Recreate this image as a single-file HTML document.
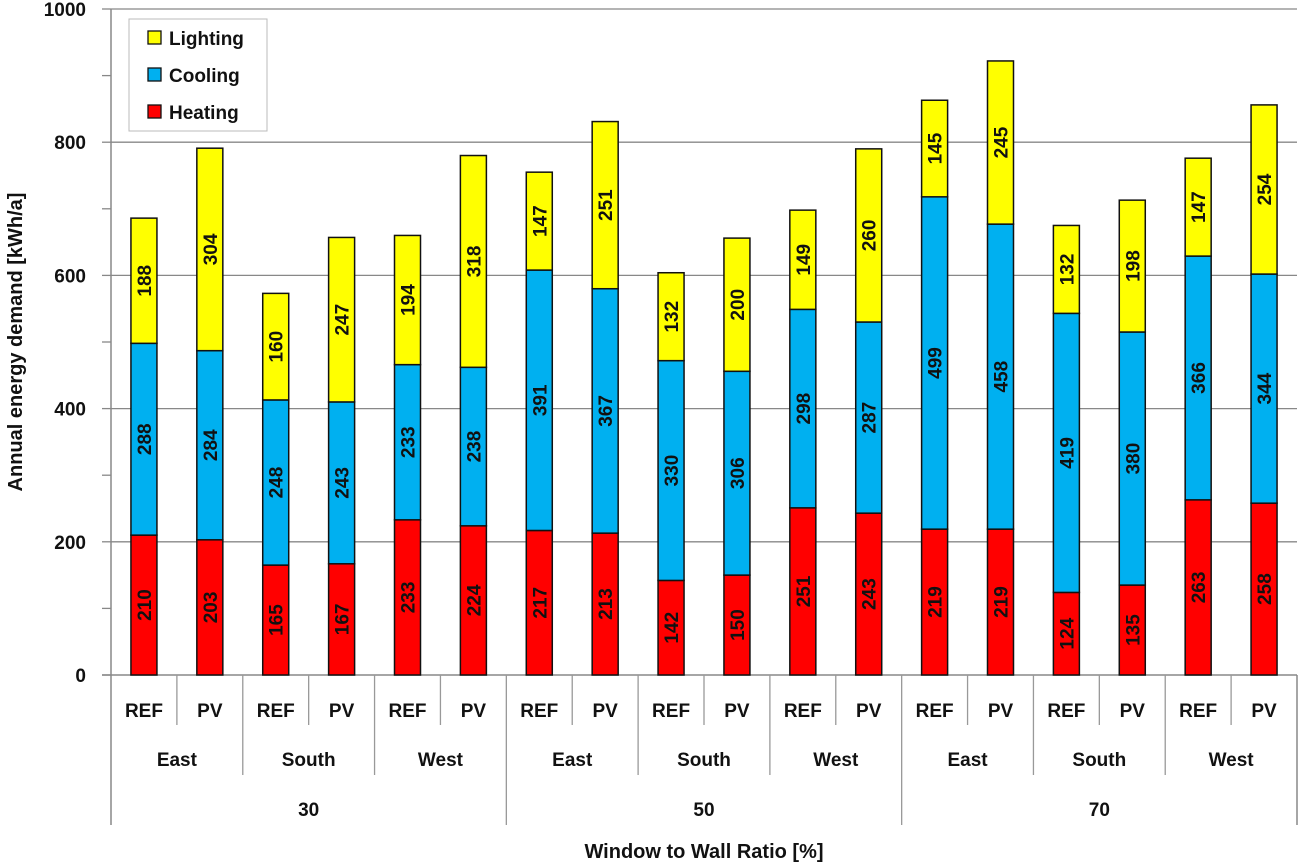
<!DOCTYPE html>
<html><head><meta charset="utf-8"><style>
html,body{margin:0;padding:0;background:#fff;}
svg{display:block;font-family:"Liberation Sans",sans-serif;}
</style></head><body>
<svg id="chart" width="1299" height="864"></svg>
<script>
const wwr = ["30","50","70"];
const orientations = ["East","South","West"];
const variants = ["REF","PV"];
const heating = [210,203,165,167,233,224,217,213,142,150,251,243,219,219,124,135,263,258];
const cooling = [288,284,248,243,233,238,391,367,330,306,298,287,499,458,419,380,366,344];
const lighting = [188,304,160,247,194,318,147,251,132,200,149,260,145,245,132,198,147,254];
const yTicks = [0,200,400,600,800,1000];

const NS="http://www.w3.org/2000/svg";
const svg=document.getElementById('chart');
const X0=111,X1=1297,Y0=675,Y1=9,YMAX=1000;
const n=heating.length, slot=(X1-X0)/n, bw=26;
const y=v=>Y0-(v/YMAX)*(Y0-Y1);
const xc=i=>X0+slot*(i+0.5);
function mk(tag,attrs,parent){const e=document.createElementNS(NS,tag);for(const k in attrs)e.setAttribute(k,attrs[k]);(parent||svg).appendChild(e);return e;}

// gridlines & ticks
for(let v=0;v<=YMAX;v+=100){
  const t=mk('line',{x1:X0-9,x2:X0,y1:y(v),y2:y(v),stroke:'#888','stroke-width':1.3});
  
  
}
yTicks.forEach(v=>{
  if(v>0){const g=mk('line',{x1:X0,x2:X1,y1:y(v),y2:y(v),stroke:'#888','stroke-width':1.3});
  
  }
  const t=mk('text',{x:86,y:y(v)+7,'text-anchor':'end','font-size':19,'font-weight':'bold',fill:'#111'});
  t.textContent=v;
  
  
});
// axis lines
mk('line',{x1:X0,x2:X0,y1:Y1,y2:825,stroke:'#888','stroke-width':1.5});
mk('line',{x1:X1,x2:X1,y1:Y0,y2:825,stroke:'#888','stroke-width':1.5});
mk('line',{x1:X0-9,x2:X1,y1:Y0,y2:Y0,stroke:'#888','stroke-width':1.5});

// bars
const series=[[heating,'#ff0000','heating'],[cooling,'#00b0f0','cooling'],[lighting,'#ffff00','lighting']];
for(let i=0;i<n;i++){
  let base=0;
  series.forEach(([arr,col,nm])=>{
    const v=arr[i];
    const r=mk('rect',{x:xc(i)-bw/2,y:y(base+v),width:bw,height:y(base)-y(base+v),fill:col,stroke:'#111','stroke-width':1.5});
    
    
    const cy=(y(base)+y(base+v))/2;
    const t=mk('text',{x:xc(i)+7,y:cy,'text-anchor':'middle','font-size':19,'font-weight':'bold',fill:'#111',transform:`rotate(-90 ${xc(i)+7} ${cy})`});
    t.textContent=v;
    
    
    base+=v;
  });
}

// category axis
for(let i=0;i<n;i++){
  const t=mk('text',{x:xc(i),y:717,'text-anchor':'middle','font-size':19,'font-weight':'bold',fill:'#111'});
  t.textContent=variants[i%2];
  
  
  if(i>0){const bottom=i%6===0?825:(i%2===0?775:725);
    mk('line',{x1:X0+slot*i,x2:X0+slot*i,y1:Y0,y2:bottom,stroke:'#999','stroke-width':1.3});}
}
for(let g=0;g<9;g++){
  const t=mk('text',{x:X0+slot*(2*g+1),y:766,'text-anchor':'middle','font-size':19,'font-weight':'bold',fill:'#111'});
  t.textContent=orientations[g%3];
  
  
}
wwr.forEach((w,k)=>{
  const t=mk('text',{x:X0+slot*(6*k+3),y:816,'text-anchor':'middle','font-size':19,'font-weight':'bold',fill:'#111'});
  t.textContent=w;
  
  
});
const xt=mk('text',{x:704,y:858,'text-anchor':'middle','font-size':20,'font-weight':'bold',fill:'#111'});
xt.textContent='Window to Wall Ratio [%]';


const yt=mk('text',{x:22,y:342,'text-anchor':'middle','font-size':20,'font-weight':'bold',fill:'#111',transform:'rotate(-90 22 342)'});
yt.textContent='Annual energy demand [kWh/a]';



// legend
const lg=mk('g',{});


mk('rect',{x:129,y:19,width:138,height:112,fill:'#fff',stroke:'#bbb','stroke-width':1},lg);
[['Lighting','#ffff00'],['Cooling','#00b0f0'],['Heating','#ff0000']].forEach(([l,c],k)=>{
  const e=mk('g',{},lg);
  
  
  const yy=38+k*37;
  mk('rect',{x:148,y:yy-7,width:13,height:13,fill:c,stroke:'#111','stroke-width':1.3},e);
  const t=mk('text',{x:169,y:yy+7,'font-size':19,'font-weight':'bold',fill:'#111'},e);
  t.textContent=l;
});
</script>
</body></html>
